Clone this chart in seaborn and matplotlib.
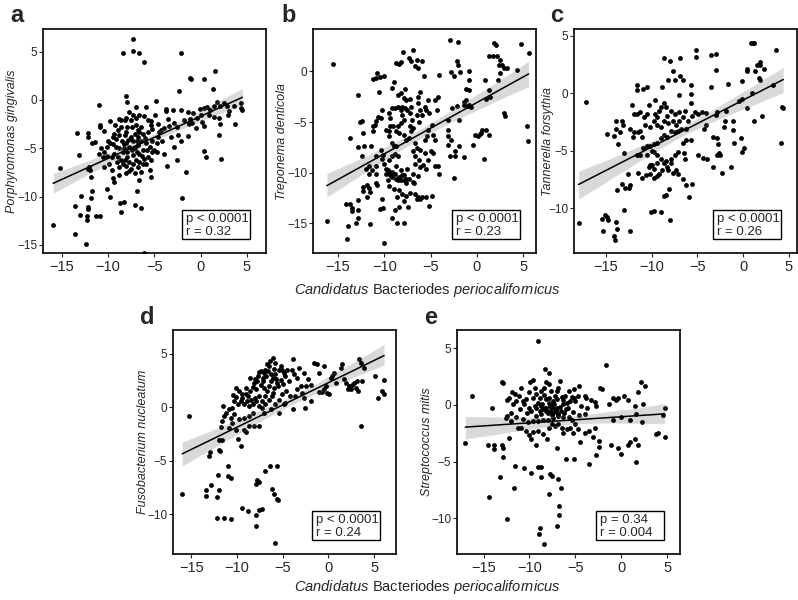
import matplotlib
matplotlib.use("Agg")
import matplotlib.pyplot as plt
import matplotlib.patches as mpatches
import pandas as pd
import seaborn as sns

# ---- data (x = Candidatus B. periocalifornicus, y = species) ----
pts_a = [(-7.3, 6.3), (-8.4, 4.9), (-7.3, 5.1), (-6.7, 4.9), (-6.1, 3.9), (-2.1, 4.9), (1.5, 3.0), (-1.1, 2.3),
         (-1.0, 2.2), (0.4, 2.2), (1.3, 1.1), (-2.3, 0.9), (-8.0, 0.4), (-11.0, -0.5),
         (-4.8, -0.1), (-3.7, -0.9), (-3.0, -1.0), (-2.1, -1.0), (-3.7, -1.1), (-1.4, -1.25), (-0.8, -1.4),
         (-0.1, -0.9), (0.4, -0.8), (0.7, -0.7), (1.4, -0.6), (1.8, -0.2), (2.1, -0.6), (2.8, -0.6), (3.6, -0.6),
         (4.4, -0.3), (4.5, -1.0), (4.3, -0.8), (0.9, -1.6), (1.4, -1.8), (2.0, -1.9), (2.9, -1.6), (-0.4, -1.9),
         (0.2, -2.3), (-0.9, -2.4), (-1.3, -2.5), (-1.8, -2.1), (-2.9, -2.4), (-3.4, -2.7), (-4.0, -2.9),
         (-2.5, -2.8), (-0.5, -2.9), (0.4, -2.7), (3.75, -2.5), (2.1, -2.5), (2.0, -3.6), (-2.4, -3.6),
         (-1.4, -3.75), (-2.1, -4.2), (-2.9, -4.9), (0.4, -5.3), (0.6, -5.9), (2.2, -6.1), (-3.6, -6.8),
         (-2.5, -6.2), (-1.6, -7.5), (-2.0, -10.2), (-4.6, -2.5), (-4.3, -3.1), (-4.6, -3.8), (-4.2, -4.2),
         (-4.7, -4.5), (-12.1, -3.4), (-12.1, -3.8), (-13.3, -3.4), (-11.7, -4.5), (-11.4, -4.4), (-10.8, -2.6),
         (-10.8, -2.8), (-13.1, -5.7), (-12.0, -6.9), (-12.1, -7.1), (-11.9, -7.3), (-11.8, -8.0), (-11.7, -9.4),
         (-11.8, -10.2), (-12.9, -9.9), (-13.5, -11.0), (-13.0, -11.9), (-12.3, -12.0), (-12.2, -11.1),
         (-12.1, -11.3), (-12.25, -12.4), (-11.25, -12.0), (-10.8, -12.0), (-13.5, -13.9), (-12.4, -14.9),
         (-15.9, -13.0), (-15.2, -7.0), (-11.0, -5.6), (-10.7, -5.0), (-10.4, -5.4), (-10.1, -4.9), (-9.8, -4.5),
         (-10.5, -5.9), (-10.1, -5.8), (-9.6, -5.9), (-9.9, -6.6), (-10.4, -6.9), (-9.5, -8.1), (-9.3, -8.5),
         (-10.1, -9.2), (-9.75, -10.1), (-8.7, -10.7), (-8.3, -10.6), (-8.6, -11.6), (-7.1, -10.9), (-6.4, -11.2),
         (-6.9, -9.4), (-6.1, -15.8), (-9.75, -2.2), (-8.75, -2.0), (-8.6, -2.1), (-8.6, -2.8), (-7.9, -2.8),
         (-7.4, -2.8), (-7.0, -2.6), (-6.8, -3.1), (-6.4, -2.8), (-6.1, -1.7), (-5.7, -2.1), (-5.4, -2.6),
         (-5.7, -3.3), (-4.9, -1.6), (-7.7, -1.2), (-7.0, -0.7), (-8.9, -3.1), (-9.3, -3.5), (-9.5, -3.8),
         (-9.1, -4.0), (-8.5, -4.2), (-8.2, -3.6), (-8.0, -4.5), (-7.7, -4.9), (-7.3, -4.3), (-7.1, -5.0),
         (-6.8, -4.7), (-6.4, -4.2), (-6.25, -5.2), (-5.9, -4.5), (-5.5, -4.9), (-5.2, -4.3), (-5.0, -5.2),
         (-6.6, -5.6), (-7.3, -5.7), (-7.9, -5.9), (-8.2, -6.25), (-8.6, -6.2), (-8.9, -5.9), (-9.3, -5.6),
         (-8.4, -6.6), (-8.0, -6.8), (-7.7, -6.4), (-7.3, -6.6), (-7.0, -6.25), (-6.6, -6.4), (-6.1, -6.1),
         (-5.7, -5.9), (-5.4, -6.25), (-5.5, -7.3), (-6.4, -7.5), (-7.1, -7.6), (-8.0, -7.6), (-8.75, -7.8),
         (-7.5, -7.1), (-5.2, -5.4), (-4.7, -5.4), (-9.1, -4.9), (-8.75, -5.0), (-8.4, -5.4), (-7.9, -5.4),
         (-7.5, -3.8), (-7.1, -3.5), (-6.8, -3.8), (-6.25, -3.5), (-8.2, -2.1), (-7.5, -2.1), (-7.0, -1.9),
         (-6.6, -1.6), (-7.3, -1.6), (-5.9, -0.7), (-7.9, -0.2), (-8.0, -3.3), (-7.6, -4.0), (-6.9, -5.4),
         (-6.2, -6.6), (-8.3, -5.0), (-9.0, -6.4), (-6.0, -3.9), (-5.2, -3.0), (-10.4, -3.2), (-10.0, -4.2),
         (-9.6, -7.3), (-6.7, -8.3), (-5.3, -8.0), (-3.2, -3.8), (-3.9, -5.6), (-1.2, -2.0), (1.0, -1.0),
         (3.1, -1.1), (2.5, -0.3), (0.0, -1.6), (-9.4, -4.6), (-8.8, -3.6), (-8.3, -4.6), (-7.8, -4.1),
         (-7.4, -5.2), (-6.9, -4.2), (-6.6, -3.3), (-6.3, -5.8), (-5.8, -5.2), (-5.9, -6.6), (-8.8, -6.9),
         (-7.7, -7.4), (-6.8, -6.9), (-9.2, -2.6), (-8.1, -1.9), (-5.3, -2.2), (-4.5, -3.3), (-3.5, -2.0)]

pts_b = [(-15.55, 0.7), (-16.2, -14.8), (-14.0, -16.6), (-13.9, -15.3), (-14.1, -13.1), (-13.7, -13.1),
         (-13.5, -13.5), (-13.5, -13.8), (-13.0, -15.0), (-12.8, -14.5), (-12.8, -13.7), (-12.8, -12.7),
         (-13.7, -6.6), (-12.8, -2.3), (-12.6, -5.0), (-12.4, -4.85), (-12.3, -6.1), (-12.2, -7.4), (-12.8, -7.5),
         (-12.4, -8.4), (-12.3, -11.4), (-12.3, -11.8), (-11.9, -11.2), (-11.9, -12.4), (-11.6, -11.5),
         (-11.5, -11.9), (-11.5, -15.1), (-11.4, -7.4), (-12.0, -9.6), (-11.7, -9.3), (-11.6, -10.1),
         (-11.3, -9.7), (-10.9, -10.1), (-10.85, -9.3), (-10.9, -8.4), (-11.2, -5.9), (-11.2, -5.4), (-11.0, -5.3),
         (-10.85, -4.9), (-10.7, -4.5), (-10.4, -4.6), (-10.2, -3.8), (-10.6, -2.0), (-10.9, -0.6), (-11.2, -0.7),
         (-10.8, -0.2), (-10.5, -0.5), (-10.0, -0.4), (-10.85, -11.0), (-10.75, -11.2), (-10.5, -13.6),
         (-10.1, -13.5), (-10.2, -12.6), (-10.0, -17.0), (-10.4, -7.8), (-10.2, -8.7), (-10.1, -8.25),
         (-10.0, -9.1), (-9.8, -9.6), (-9.8, -10.1), (-9.6, -9.7), (-9.5, -9.9), (-9.4, -10.2), (-9.6, -10.7),
         (-9.2, -10.4), (-9.2, -9.9), (-8.85, -10.1), (-8.7, -10.6), (-8.5, -10.7), (-8.4, -10.4), (-8.2, -10.7),
         (-8.1, -10.2), (-7.9, -10.7), (-7.6, -10.6), (-7.3, -10.6), (-7.5, -9.6), (-8.2, -9.7), (-8.7, -9.3),
         (-9.5, -8.75), (-9.2, -8.4), (-8.85, -8.15), (-8.5, -8.4), (-9.0, -7.4), (-8.7, -7.4), (-9.2, -7.1),
         (-9.5, -6.4), (-9.5, -5.9), (-9.8, -5.8), (-9.35, -5.4), (-9.1, -5.4), (-9.35, -4.6), (-9.5, -4.1),
         (-9.2, -3.6), (-8.85, -3.6), (-8.5, -3.5), (-8.2, -3.8), (-8.1, -3.5), (-7.8, -3.6), (-8.1, -4.3),
         (-7.9, -4.8), (-8.2, -5.1), (-8.5, -5.4), (-8.7, -5.9), (-8.4, -6.1), (-7.9, -6.3), (-7.6, -6.8),
         (-7.3, -6.6), (-7.1, -5.9), (-6.85, -5.6), (-7.2, -5.4), (-7.0, -4.8), (-7.2, -4.1), (-7.5, -3.8),
         (-7.1, -3.5), (-7.6, -2.8), (-7.2, -2.7), (-7.9, -2.6), (-8.2, -2.1), (-8.5, -2.3), (-7.8, -1.75),
         (-9.0, -1.0), (-9.2, -1.65), (-8.2, 0.9), (-8.7, 0.8), (-8.4, 0.75), (-8.0, 1.9), (-7.3, 1.3),
         (-7.1, 1.0), (-6.85, 2.1), (-6.5, 1.15), (-6.7, 0.5), (-6.4, 0.3), (-5.9, 1.0), (-5.7, -0.4),
         (-6.1, -2.0), (-6.4, -2.5), (-6.4, -3.1), (-6.1, -3.8), (-6.5, -4.3), (-6.2, -4.95), (-5.9, -4.3),
         (-5.6, -3.5), (-5.3, -2.8), (-5.45, -3.8), (-5.15, -4.1), (-6.7, -7.1), (-6.5, -7.6), (-6.1, -7.8),
         (-5.6, -8.1), (-5.3, -8.75), (-5.8, -9.2), (-6.2, -8.75), (-6.7, -8.4), (-6.85, -7.9), (-6.7, -9.1),
         (-6.1, -9.4), (-5.45, -9.6), (-6.4, -10.3), (-6.85, -10.1), (-6.9, -10.9), (-6.75, -11.0),
         (-7.9, -10.2), (-7.6, -11.0), (-8.4, -11.7), (-8.1, -12.1), (-8.9, -11.65), (-9.5, -11.3),
         (-8.6, -12.4), (-7.6, -12.3), (-7.2, -12.05), (-6.7, -12.1), (-6.4, -12.4), (-5.9, -12.4),
         (-5.45, -12.4), (-4.85, -12.3), (-7.9, -12.8), (-8.4, -13.4), (-8.85, -13.7), (-9.2, -14.5),
         (-8.6, -14.95), (-7.9, -14.95), (-7.4, -13.4), (-6.5, -12.6), (-5.2, -13.3), (-6.1, -12.6),
         (-4.5, -6.8), (-4.75, -8.1), (-5.0, -7.9), (-4.5, -9.3), (-4.2, -9.3), (-4.1, -10.1), (-5.3, -5.8),
         (-5.6, -6.8), (-5.35, -6.4), (-4.7, -6.3), (-4.85, -5.3), (-4.3, -3.8), (-4.5, -2.8), (-4.2, -2.5),
         (-4.1, -0.3), (-2.9, 3.1), (-2.0, 2.9), (-2.1, 1.0), (-2.0, 0.66), (-2.5, -0.4), (-2.8, -0.1),
         (-0.8, 0.0), (-1.8, -0.1), (-1.15, -1.75), (-0.8, -0.8), (0.85, -0.8), (1.0, -2.7), (1.35, -1.8),
         (1.4, -2.5), (1.35, 1.55), (1.7, 1.55), (1.9, 2.8), (2.1, 2.6), (2.2, 1.55), (2.4, 0.66), (2.5, -0.2),
         (2.3, -0.8), (2.5, 1.15), (2.7, 0.66), (2.9, 0.33), (3.3, 0.33), (2.9, -4.1), (3.1, -4.4), (4.4, 0.1),
         (4.8, 2.7), (5.6, 1.8), (5.4, -5.4), (5.5, -6.9), (-0.8, -1.8), (-1.15, -2.8), (-1.35, -3.0),
         (-1.4, -3.3), (-1.0, -3.4), (-0.8, -3.3), (-0.6, -3.5), (-0.4, -7.3), (-0.2, -6.3), (0.1, -6.4),
         (0.3, -6.2), (0.5, -6.1), (0.6, -5.8), (1.0, -5.8), (1.3, -6.3), (0.8, -8.7), (-1.35, -8.5),
         (-1.9, -7.4), (-2.3, -7.9), (-2.4, -8.4), (-2.5, -10.5), (-2.8, -6.8), (-3.1, -7.3), (-1.9, -4.8),
         (-2.1, -3.4), (-2.7, -3.6), (-3.15, -4.8), (-3.1, -5.8), (-3.15, -6.4), (-2.9, -8.4)]

pts_c = [(-17.2, -0.75), (-18.0, -11.3), (-15.4, -10.9), (-15.1, -10.6), (-14.85, -10.75), (-14.8, -11.0),
         (-15.3, -12.0), (-13.9, -11.2), (-13.8, -11.8), (-14.1, -12.4), (-14.0, -12.75), (-12.4, -12.0),
         (-13.0, -10.2), (-13.8, -8.4), (-13.3, -7.9), (-12.9, -8.2), (-12.5, -8.2), (-12.4, -8.0), (-12.6, -7.0),
         (-14.9, -3.5), (-13.9, -2.4), (-13.3, -2.4), (-13.9, -3.1), (-13.5, -3.4), (-13.7, -4.4), (-14.1, -3.7),
         (-13.1, -2.8), (-13.0, -5.2), (-12.4, -3.1), (-12.1, -1.0), (-11.95, -3.4), (-11.65, 0.3), (-11.6, 0.75),
         (-11.95, -1.8), (-11.65, -1.8), (-11.3, -1.6), (-11.5, -3.4), (-12.0, -3.8), (-11.3, -3.3), (-11.1, -3.8),
         (-11.0, 0.4), (-10.5, 0.55), (-10.3, -1.0), (-10.55, -1.8), (-10.85, -2.1), (-10.7, -2.8), (-10.15, -2.95),
         (-9.8, -2.45), (-9.6, -1.8), (-9.4, -2.1), (-9.2, -1.5), (-9.6, -0.55), (-9.0, -1.15), (-8.7, -0.8),
         (-8.45, -1.15), (-8.85, 0.55), (-8.6, 3.1), (-8.0, 2.8), (-8.2, 1.15), (-7.7, 1.95), (-7.5, 1.15),
         (-6.95, 1.5), (-7.05, -0.15), (-6.95, 3.1), (-6.6, 1.2), (-5.75, 0.75), (-5.2, 3.8), (-5.1, 3.2),
         (-5.75, -0.8), (-6.4, -1.5), (-7.0, -1.6), (-7.5, -1.8), (-7.9, -1.5), (-8.3, -2.0), (-8.7, -2.45),
         (-9.0, -2.95), (-9.4, -2.8), (-8.2, -2.6), (-7.7, -2.45), (-7.3, -2.8), (-7.0, -2.45), (-6.6, -2.1),
         (-6.0, -2.45), (-5.6, -2.0), (-5.25, -1.6), (-4.9, -1.8), (-4.5, -1.6), (-4.1, -2.8), (-6.2, -3.1),
         (-6.8, -3.1), (-7.1, -3.3), (-7.5, -3.4), (-7.9, -3.3), (-8.3, -3.8), (-8.6, -3.6), (-9.0, -3.9),
         (-9.4, -4.3), (-9.8, -4.4), (-10.15, -4.6), (-10.5, -4.6), (-10.9, -4.75), (-11.3, -5.4), (-11.65, -5.4),
         (-9.95, -5.0), (-9.7, -5.1), (-9.4, -5.4), (-10.5, -5.4), (-10.2, -6.2), (-10.3, -6.4), (-9.95, -6.2),
         (-9.8, -6.6), (-9.4, -6.1), (-9.0, -5.7), (-8.7, -6.1), (-8.45, -5.9), (-8.3, -6.4), (-8.85, -6.7),
         (-9.2, -7.05), (-9.4, -7.2), (-9.8, -7.4), (-10.15, -7.05), (-10.6, -7.1), (-11.1, -7.4), (-11.5, -6.95),
         (-8.2, -6.7), (-7.9, -6.1), (-7.9, -5.7), (-7.7, -6.9), (-7.3, -6.7), (-7.5, -5.4), (-7.1, -5.1),
         (-6.6, -4.3), (-6.2, -4.1), (-5.75, -4.1), (-6.5, -5.2), (-6.4, -5.7), (-7.1, -7.05), (-6.6, -7.5),
         (-6.2, -8.0), (-5.6, -7.9), (-5.9, -9.0), (-8.1, -8.3), (-8.7, -8.95), (-8.45, -8.85), (-9.0, -10.3),
         (-10.1, -10.3), (-9.8, -10.25), (-8.0, -11.0), (-5.7, -0.1), (-4.1, -1.7), (-4.25, -3.1), (-3.0, -1.9),
         (-2.8, -1.6), (-3.3, -3.8), (-2.8, -3.9), (-2.7, -4.4), (-2.6, -5.2), (-2.8, -5.4), (-2.55, -5.4),
         (-3.3, -6.4), (-4.9, -5.4), (-4.4, -5.6), (-3.9, -5.7), (-3.5, 3.3), (-3.0, 3.4), (-3.0, 2.0),
         (-3.5, 0.55), (-2.3, -6.9), (-2.1, -2.95), (-2.0, -2.45), (-1.7, 0.8), (-1.9, -1.5), (-1.1, -2.45),
         (-1.05, -3.2), (-1.3, -6.4), (-1.0, -4.3), (-0.2, -3.9), (-0.1, -5.1), (0.1, -4.8), (-0.5, -0.65),
         (-0.1, -0.5), (0.45, -1.3), (-0.1, 1.1), (0.45, 2.1), (0.45, 1.95), (1.0, 0.0), (0.85, 4.4), (1.05, 4.4),
         (1.2, 4.4), (1.3, 1.95), (1.5, 2.5), (1.8, 2.5), (1.9, 2.7), (1.7, 1.3), (1.9, 1.15), (2.25, 2.1),
         (2.1, -2.0), (1.2, -2.45), (3.6, 3.8), (3.3, 0.75), (4.3, -1.15), (4.4, -1.3), (4.1, -4.3)]

pts_d = [(-15.2, -0.8), (-16.0, -8.1), (-13.4, -7.7), (-13.35, -8.3), (-12.8, -7.3), (-13.1, -4.6), (-12.9, -4.2),
         (-12.0, -3.95), (-11.9, -4.1), (-12.0, -3.1), (-11.6, -3.1), (-12.1, -6.3), (-12.0, -7.7), (-12.15, -8.4),
         (-12.15, -10.3), (-11.4, -10.3), (-11.0, -5.5), (-11.0, -6.4), (-10.7, -6.6), (-10.65, -10.4),
         (-9.4, -9.4), (-8.75, -9.65), (-7.95, -11.1), (-7.95, -10.1), (-7.6, -9.6), (-7.3, -9.5), (-7.8, -6.8),
         (-7.55, -7.0), (-7.9, -7.2), (-6.9, -6.0), (-6.4, -5.5), (-5.65, -5.5), (-6.2, -7.6), (-5.95, -8.1),
         (-5.65, -8.6), (-5.5, -8.65), (-5.8, -12.65), (-11.7, -1.85), (-11.6, -1.3), (-11.4, -0.85), (-11.5, 0.1),
         (-11.2, -0.5), (-10.9, -0.2), (-10.7, -1.0), (-10.5, -0.05), (-10.3, 0.55), (-10.1, 0.95), (-10.4, 1.1),
         (-10.15, 1.8), (-9.8, 1.5), (-9.4, 1.2), (-9.05, 1.8), (-9.6, 0.55), (-9.2, 0.25), (-8.9, 0.55),
         (-8.7, 0.1), (-8.5, 0.7), (-8.3, 0.25), (-7.95, 0.55), (-7.6, 1.0), (-7.95, 1.65), (-8.1, 2.3),
         (-7.8, 2.4), (-7.4, 2.1), (-7.2, 2.75), (-7.0, 3.2), (-6.9, 3.5), (-6.7, 4.0), (-6.4, 4.3), (-6.1, 4.6),
         (-7.0, 1.8), (-6.7, 1.5), (-6.5, 2.0), (-6.3, 2.4), (-6.1, 2.75), (-5.8, 3.05), (-5.4, 3.5), (-5.2, 3.8),
         (-5.05, 3.5), (-4.85, 3.2), (-4.7, 2.9), (-4.5, 3.5), (-4.3, 2.4), (-3.9, 4.5), (-3.8, 3.05), (-5.6, 2.3),
         (-5.9, 1.8), (-6.1, 1.3), (-6.5, 0.7), (-6.9, 0.25), (-7.0, -0.5), (-7.3, -0.05), (-7.6, 0.1),
         (-6.3, -0.2), (-5.8, 0.25), (-5.4, 0.7), (-5.05, 1.2), (-4.7, 0.4), (-4.85, 0.25), (-5.4, -0.5),
         (-3.9, -0.2), (-3.6, 1.0), (-3.4, 1.65), (-3.0, 2.0), (-2.85, 1.35), (-2.7, 0.9), (-2.5, 2.0),
         (-2.6, -0.05), (-2.2, 2.6), (-1.9, 2.1), (-1.85, 0.55), (-1.55, 4.15), (-1.2, 4.0), (-1.0, 3.2),
         (-1.0, 1.4), (-0.65, 1.4), (-0.5, 3.85), (-0.5, 1.65), (-0.3, 2.0), (-0.1, 1.35), (0.07, 1.2),
         (0.25, 2.75), (0.45, 2.9), (0.6, 3.2), (0.8, 2.3), (1.35, 3.7), (1.5, 4.0), (1.7, 2.6), (1.9, 2.3),
         (2.1, 1.65), (2.3, 2.0), (2.45, 1.65), (2.6, 2.1), (2.8, 2.3), (3.0, 1.8), (3.2, 1.5), (3.35, 4.45),
         (3.55, 4.15), (3.9, 3.7), (3.7, 2.4), (3.1, 2.4), (3.55, -1.8), (5.1, 2.9), (5.4, 0.9), (5.9, 1.5),
         (6.1, 1.2), (6.1, 2.5), (-3.4, 2.75), (-3.2, 3.7), (-2.7, 3.2), (-8.7, -1.8), (-8.1, -1.8), (-7.6, -1.8),
         (-9.2, -2.1), (-9.05, -2.35), (-10.1, -2.1), (-9.85, -3.0), (-9.6, -3.65), (-10.9, -1.95), (-10.5, -1.5),
         (-9.8, -1.15), (-9.2, -1.0), (-8.7, -0.85), (-8.3, -0.5), (-9.5, 0.9), (-9.0, 1.2), (-8.6, 1.5),
         (-8.3, 1.9), (-8.0, 2.6), (-7.7, 2.9), (-7.4, 3.4), (-7.1, 2.4), (-6.8, 2.9), (-6.6, 3.4), (-6.3, 3.1),
         (-6.0, 3.6), (-5.7, 2.6), (-5.5, 2.0), (-5.2, 2.5), (-6.9, 1.0), (-7.3, 0.6), (-8.0, 0.9), (-8.8, 1.0),
         (-9.9, 0.3), (-10.3, -0.6), (-6.2, 1.0), (-5.0, 2.2), (-4.6, 1.5), (-4.2, 1.0), (-6.5, 3.8), (-7.6, 3.3),
         (-8.6, 2.7), (-4.0, 3.5), (-5.8, 4.1)]

pts_e = [(-16.3, 0.8), (-17.0, -3.4), (-14.5, -3.5), (-14.1, -0.25), (-13.9, -3.5), (-13.9, -3.9), (-13.0, 2.0),
         (-12.9, 1.95), (-13.0, -3.5), (-12.9, -3.8), (-12.85, -4.6), (-13.2, -6.35), (-14.4, -8.1), (-12.5, -10.1),
         (-11.6, -5.4), (-11.7, -7.3), (-10.6, -5.6), (-9.8, -6.05), (-9.1, -5.5), (-8.7, -5.5), (-8.7, -6.4),
         (-8.9, -10.9), (-9.0, -11.4), (-8.4, -12.3), (-7.85, -7.9), (-7.8, -6.1), (-7.5, -6.3), (-6.85, -6.55),
         (-6.6, -7.3), (-6.75, -8.9), (-6.75, -9.7), (-7.0, -10.7), (-6.0, -4.8), (-7.0, -3.8), (-12.6, -1.2),
         (-12.4, -1.0), (-12.0, -1.4), (-12.2, -2.9), (-11.3, -2.0), (-10.9, -2.0), (-10.4, -2.3), (-10.0, -2.7),
         (-9.6, -2.4), (-9.8, -3.0), (-9.3, -3.5), (-9.1, -2.3), (-8.5, -2.6), (-8.1, -3.0), (-7.85, -2.0),
         (-7.5, -1.7), (-7.2, -1.85), (-6.85, -1.65), (-6.5, -2.0), (-6.3, -2.45), (-5.9, -2.15), (-5.55, -2.0),
         (-5.25, -2.45), (-5.0, -1.7), (-5.4, -1.35), (-5.7, -1.1), (-6.3, -1.1), (-6.85, -1.0), (-7.4, -1.2),
         (-8.0, -1.3), (-8.5, -1.35), (-9.1, -1.4), (-9.6, -1.4), (-10.2, -1.55), (-10.7, -1.25), (-11.5, -1.1),
         (-12.0, -0.7), (-11.85, 0.05), (-11.5, 0.35), (-12.2, 0.6), (-12.5, 0.45), (-11.9, 1.1), (-11.55, 1.0),
         (-11.1, 0.8), (-10.9, 1.5), (-10.7, 0.35), (-10.6, 0.05), (-10.4, 0.5), (-10.1, 1.1), (-9.9, 2.0),
         (-9.6, 2.2), (-9.45, 1.5), (-9.25, 0.95), (-9.1, 0.2), (-8.7, -0.1), (-8.9, -0.5), (-8.5, -0.4),
         (-8.7, 1.25), (-8.45, 1.5), (-8.2, 2.0), (-8.3, 3.15), (-7.9, 2.85), (-7.85, 1.8), (-8.15, 0.5),
         (-7.9, 0.2), (-7.8, -0.1), (-7.6, -0.3), (-7.4, -0.7), (-7.4, 0.35), (-7.2, 0.8), (-7.0, 1.25),
         (-6.85, 1.5), (-6.65, 2.1), (-6.5, 0.65), (-6.3, 0.05), (-6.0, -0.4), (-5.75, 1.25), (-5.55, 0.35),
         (-5.4, 0.65), (-5.1, 1.4), (-5.0, 0.35), (-5.9, 0.2), (-7.0, -0.3), (-8.3, -0.25), (-8.15, -0.5),
         (-8.7, -0.8), (-9.25, -1.0), (-9.8, -0.5), (-10.0, -0.25), (-9.45, -0.1), (-7.8, -0.5), (-7.1, -0.5),
         (-6.6, -0.5), (-9.1, 5.65), (-1.65, 3.55), (-2.3, 1.5), (-2.1, 1.4), (2.1, 2.0), (2.55, 1.7), (1.8, 1.15),
         (-0.9, 0.6), (-0.35, 0.6), (-1.3, 0.05), (-0.6, 0.4), (0.35, 0.75), (0.7, 0.4), (1.46, -0.1), (2.4, 0.05),
         (2.3, -1.5), (1.6, -0.85), (0.9, -1.3), (0.0, -1.1), (-0.9, -1.3), (-1.1, -3.5), (0.0, -4.35),
         (-0.35, -3.8), (0.7, -3.5), (0.9, -3.3), (1.46, -3.0), (1.8, -3.5), (1.6, -5.0), (3.8, -2.6), (4.0, -2.5),
         (4.75, -2.8), (4.75, -0.25), (4.6, -0.9), (-2.4, -3.15), (-2.4, -3.7), (-2.8, -4.45), (-3.5, -5.2),
         (-3.1, -2.8), (-4.0, -2.5), (-4.5, -3.3), (-5.2, -4.8), (-4.7, -2.1), (-4.0, -0.8), (-2.9, 0.25),
         (-2.7, -0.1), (-3.3, 0.4), (-3.8, 0.6), (-4.4, -0.1), (-4.75, 0.75), (-2.9, -2.0), (-3.5, -2.3),
         (-4.0, 0.75), (-4.6, 1.65), (-5.2, 0.6), (-8.6, 0.1), (-8.2, -0.3), (-7.9, 0.6), (-7.6, -0.1),
         (-7.3, 0.1), (-7.0, 0.5), (-6.7, -0.2), (-6.4, 0.4), (-8.9, 0.6), (-9.3, -0.3), (-8.0, -0.7),
         (-7.5, -0.9), (-6.9, -0.8), (-6.2, -0.7), (-5.8, -0.3), (-8.4, 0.9), (-7.7, 1.2), (-7.2, -0.4),
         (-6.1, 0.8), (-9.6, 0.6), (-10.3, -0.7), (-11.0, -0.4), (-5.3, -0.6), (-4.6, -0.9), (-3.7, -0.3)]

letters = ["a", "b", "c", "d", "e"]
species = ["Porphyromonas gingivalis", "Treponema denticola", "Tannerella forsythia",
           "Fusobacterium nucleatum", "Streptococcus mitis"]
p_text = ["p < 0.0001", "p < 0.0001", "p < 0.0001", "p < 0.0001", "p = 0.34"]
r_text = ["r = 0.32", "r = 0.23", "r = 0.26", "r = 0.24", "r = 0.004"]
xticks = [-15, -10, -5, 0, 5]
yticks = [[5, 0, -5, -10, -15], [0, -5, -10, -15], [5, 0, -5, -10], [5, 0, -5, -10], [5, 0, -5, -10]]
xlims = [(-17.0, 7.05), (-17.7, 6.4), (-18.5, 5.9), (-17.0, 7.4), (-17.9, 6.4)]
ylims = [(-15.85, 7.35), (-17.95, 4.2), (-13.9, 5.6), (-13.7, 7.2), (-13.15, 6.6)]

# layout in pixels (left, top) of each axes frame, 798 x 600 figure
W, H = 798, 600
frames = [(43, 29), (313, 29), (574, 29), (173, 330), (457, 330)]
AW, AH = 223, 224
letter_pos = [(10, 16), (281, 16), (550, 16), (140, 318), (424, 318)]
ylabel_x = [-0.112, -0.112, -0.09, -0.108, -0.108]

sns.set_style("ticks")
plt.rcParams['font.family'] = ['Liberation Sans', 'DejaVu Sans']
plt.rcParams['mathtext.fontset'] = 'custom'
plt.rcParams['mathtext.rm'] = 'Liberation Sans'
plt.rcParams['mathtext.it'] = 'Liberation Sans:italic'

narrow = ['Liberation Sans Narrow', 'Liberation Sans']

fig = plt.figure(figsize=(W / 100, H / 100), dpi=100)
fig.patch.set_facecolor('white')

for i, pts in enumerate([pts_a, pts_b, pts_c, pts_d, pts_e]):
    df = pd.DataFrame(pts, columns=["x", "y"])
    left, top = frames[i]
    ax = fig.add_axes([left / W, 1 - (top + AH) / H, AW / W, AH / H])
    sns.regplot(data=df, x="x", y="y", ax=ax, color="black", seed=0,
                scatter_kws={"s": 12, "linewidths": 0, "alpha": 1},
                line_kws={"linewidth": 1.1})
    ax.set_xlim(*xlims[i])
    ax.set_ylim(*ylims[i])
    ax.set_xticks(xticks)
    ax.set_yticks(yticks[i])
    ax.set_xlabel("")
    ax.set_ylabel(species[i], fontstyle="italic", fontsize=9, family=narrow)
    ax.yaxis.set_label_coords(ylabel_x[i], 0.5)
    ax.tick_params(axis="x", labelsize=10.5, length=3, width=0.8, pad=2)
    ax.tick_params(axis="y", labelsize=8.5, length=3, width=0.8, pad=1)
    for lab in ax.get_yticklabels():
        lab.set_family(narrow)
    for sp in ax.spines.values():
        sp.set_linewidth(1.2)
        sp.set_color("black")

    # stats box in the lower right corner
    ax.add_patch(mpatches.Rectangle((0.625, 0.062), 0.305, 0.13, transform=ax.transAxes,
                                    facecolor="white", edgecolor="black", linewidth=1, zorder=5))
    ax.text(0.64, 0.178, p_text[i] + "\n" + r_text[i], transform=ax.transAxes, va="top", ha="left",
            fontsize=9.5, family=narrow, linespacing=1.1, zorder=6)

    lx, ly = letter_pos[i]
    fig.text(lx / W, 1 - ly / H, letters[i], fontsize=17, fontweight="bold", va="center", ha="left")

xlab = r"$\mathit{Candidatus}$ Bacteriodes $\mathit{periocalifornicus}$"
fig.text(427 / W, 1 - 290 / H, xlab, fontsize=10.5, ha="center", va="center")
fig.text(427 / W, 1 - 587 / H, xlab, fontsize=10.5, ha="center", va="center")

fig.savefig("out.png", dpi=100, facecolor="white")
